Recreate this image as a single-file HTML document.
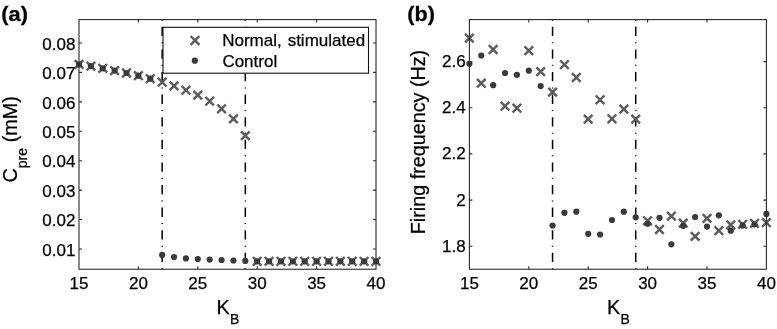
<!DOCTYPE html>
<html><head><meta charset="utf-8"><title>Figure</title>
<style>
html,body{margin:0;padding:0;background:#fff;}
body{width:777px;height:329px;overflow:hidden;}
svg{display:block;}
text{font-family:"Liberation Sans",Arial,Helvetica,sans-serif;fill:#000;stroke:#000;stroke-width:0.25px;}
.tk text{font-size:17px;}
.lb{font-size:19.75px;}
.sb{font-size:14px;}
.pn{font-size:20px;font-weight:bold;}
.lg{font-size:17px;}
</style></head><body>
<svg width="777" height="329" viewBox="0 0 777 329">
<rect width="777" height="329" fill="#fff"/>
<g stroke="#000" stroke-width="1.5" fill="none" stroke-dasharray="9.3 6.15 1 6.15" stroke-dashoffset="15.4">
<path d="M162.16 19.6V269.25"/>
<path d="M245.32 19.6V269.25"/>
</g>
<g stroke="#5c5c5c" stroke-width="2.45" fill="none">
<path d="M74.70 60.10L83.30 68.70M74.70 68.70L83.30 60.10"/>
<path d="M86.58 61.90L95.18 70.50M86.58 70.50L95.18 61.90"/>
<path d="M98.46 64.00L107.06 72.60M98.46 72.60L107.06 64.00"/>
<path d="M110.34 66.30L118.94 74.90M110.34 74.90L118.94 66.30"/>
<path d="M122.22 68.70L130.82 77.30M122.22 77.30L130.82 68.70"/>
<path d="M134.10 71.40L142.70 80.00M134.10 80.00L142.70 71.40"/>
<path d="M145.98 74.40L154.58 83.00M145.98 83.00L154.58 74.40"/>
<path d="M157.86 77.90L166.46 86.50M157.86 86.50L166.46 77.90"/>
<path d="M169.74 81.60L178.34 90.20M169.74 90.20L178.34 81.60"/>
<path d="M181.62 85.90L190.22 94.50M181.62 94.50L190.22 85.90"/>
<path d="M193.50 90.80L202.10 99.40M193.50 99.40L202.10 90.80"/>
<path d="M205.38 96.90L213.98 105.50M205.38 105.50L213.98 96.90"/>
<path d="M217.26 104.50L225.86 113.10M217.26 113.10L225.86 104.50"/>
<path d="M229.14 114.60L237.74 123.20M229.14 123.20L237.74 114.60"/>
<path d="M241.02 131.30L249.62 139.90M241.02 139.90L249.62 131.30"/>
<path d="M252.90 257.00L261.50 265.60M252.90 265.60L261.50 257.00"/>
<path d="M264.78 257.00L273.38 265.60M264.78 265.60L273.38 257.00"/>
<path d="M276.66 257.00L285.26 265.60M276.66 265.60L285.26 257.00"/>
<path d="M288.54 257.00L297.14 265.60M288.54 265.60L297.14 257.00"/>
<path d="M300.42 257.00L309.02 265.60M300.42 265.60L309.02 257.00"/>
<path d="M312.30 257.00L320.90 265.60M312.30 265.60L320.90 257.00"/>
<path d="M324.18 257.00L332.78 265.60M324.18 265.60L332.78 257.00"/>
<path d="M336.06 257.00L344.66 265.60M336.06 265.60L344.66 257.00"/>
<path d="M347.94 257.00L356.54 265.60M347.94 265.60L356.54 257.00"/>
<path d="M359.82 257.00L368.42 265.60M359.82 265.60L368.42 257.00"/>
<path d="M371.70 257.00L380.30 265.60M371.70 265.60L380.30 257.00"/>
</g>
<g fill="#3a3a3a">
<circle cx="79.00" cy="64.40" r="3.1"/>
<circle cx="90.88" cy="66.20" r="3.1"/>
<circle cx="102.76" cy="68.30" r="3.1"/>
<circle cx="114.64" cy="70.60" r="3.1"/>
<circle cx="126.52" cy="73.00" r="3.1"/>
<circle cx="138.40" cy="75.70" r="3.1"/>
<circle cx="150.28" cy="78.70" r="3.1"/>
<circle cx="162.16" cy="254.90" r="3.1"/>
<circle cx="174.04" cy="257.10" r="3.1"/>
<circle cx="185.92" cy="258.40" r="3.1"/>
<circle cx="197.80" cy="259.10" r="3.1"/>
<circle cx="209.68" cy="259.60" r="3.1"/>
<circle cx="221.56" cy="260.00" r="3.1"/>
<circle cx="233.44" cy="260.50" r="3.1"/>
<circle cx="245.32" cy="260.90" r="3.1"/>
<circle cx="257.20" cy="261.30" r="3.1"/>
<circle cx="269.08" cy="261.30" r="3.1"/>
<circle cx="280.96" cy="261.30" r="3.1"/>
<circle cx="292.84" cy="261.30" r="3.1"/>
<circle cx="304.72" cy="261.30" r="3.1"/>
<circle cx="316.60" cy="261.30" r="3.1"/>
<circle cx="328.48" cy="261.30" r="3.1"/>
<circle cx="340.36" cy="261.30" r="3.1"/>
<circle cx="352.24" cy="261.30" r="3.1"/>
<circle cx="364.12" cy="261.30" r="3.1"/>
<circle cx="376.00" cy="261.30" r="3.1"/>
</g>
<g stroke="#2b2b2b" stroke-width="1.1" fill="none">
<rect x="79.00" y="19.6" width="297.0" height="249.65"/>
<path d="M138.40 269.25v-3M138.40 19.6v3M197.80 269.25v-3M197.80 19.6v3M257.20 269.25v-3M257.20 19.6v3M316.60 269.25v-3M316.60 19.6v3M79.00 249.00h3M376.00 249.00h-3M79.00 219.57h3M376.00 219.57h-3M79.00 190.14h3M376.00 190.14h-3M79.00 160.71h3M376.00 160.71h-3M79.00 131.28h3M376.00 131.28h-3M79.00 101.85h3M376.00 101.85h-3M79.00 72.42h3M376.00 72.42h-3M79.00 42.99h3M376.00 42.99h-3"/>
</g>
<g class="tk">
<text x="79.00" y="289.2" text-anchor="middle">15</text>
<text x="138.40" y="289.2" text-anchor="middle">20</text>
<text x="197.80" y="289.2" text-anchor="middle">25</text>
<text x="257.20" y="289.2" text-anchor="middle">30</text>
<text x="316.60" y="289.2" text-anchor="middle">35</text>
<text x="376.00" y="289.2" text-anchor="middle">40</text>
<text x="75.35" y="255.65" text-anchor="end">0.01</text>
<text x="75.35" y="226.22" text-anchor="end">0.02</text>
<text x="75.35" y="196.79" text-anchor="end">0.03</text>
<text x="75.35" y="167.36" text-anchor="end">0.04</text>
<text x="75.35" y="137.93" text-anchor="end">0.05</text>
<text x="75.35" y="108.50" text-anchor="end">0.06</text>
<text x="75.35" y="79.07" text-anchor="end">0.07</text>
<text x="75.35" y="49.64" text-anchor="end">0.08</text>
</g>
<rect x="163" y="27.3" width="205.5" height="45.9" fill="#fff" stroke="#111" stroke-width="1.1"/>
<g stroke="#5c5c5c" stroke-width="2.45" fill="none"><path d="M190.60 36.00L199.40 44.80M190.60 44.80L199.40 36.00"/></g>
<circle cx="194.8" cy="60.7" r="3.1" fill="#3a3a3a"/>
<text class="lg" x="222.2" y="45.7">Normal, <tspan dx="1.2">stimulated</tspan></text>
<text class="lg" x="222.4" y="66.6">Control</text>
<text class="pn" transform="translate(1.3,20.95) scale(1.09,1)">(a)</text>
<text class="lb" x="216.6" y="314">K</text><text class="sb" x="230" y="324">B</text>
<g transform="translate(17,182.5) rotate(-90)"><text class="lb" x="0" y="0">C</text><text class="sb" x="14.3" y="10">pre</text><text class="lb" x="40.2" y="0">(mM)</text></g>
<g stroke="#000" stroke-width="1.5" fill="none" stroke-dasharray="9.3 6.15 1 6.15" stroke-dashoffset="15.4">
<path d="M552.56 19.6V269.25"/>
<path d="M635.72 19.6V269.25"/>
</g>
<g stroke="#5c5c5c" stroke-width="2.45" fill="none">
<path d="M465.10 33.80L473.70 42.40M465.10 42.40L473.70 33.80"/>
<path d="M476.98 78.90L485.58 87.50M476.98 87.50L485.58 78.90"/>
<path d="M488.86 45.20L497.46 53.80M488.86 53.80L497.46 45.20"/>
<path d="M500.74 101.90L509.34 110.50M500.74 110.50L509.34 101.90"/>
<path d="M512.62 103.90L521.22 112.50M512.62 112.50L521.22 103.90"/>
<path d="M524.50 46.40L533.10 55.00M524.50 55.00L533.10 46.40"/>
<path d="M536.38 67.30L544.98 75.90M536.38 75.90L544.98 67.30"/>
<path d="M548.26 87.80L556.86 96.40M548.26 96.40L556.86 87.80"/>
<path d="M560.14 60.40L568.74 69.00M560.14 69.00L568.74 60.40"/>
<path d="M572.02 73.20L580.62 81.80M572.02 81.80L580.62 73.20"/>
<path d="M583.90 114.80L592.50 123.40M583.90 123.40L592.50 114.80"/>
<path d="M595.78 95.50L604.38 104.10M595.78 104.10L604.38 95.50"/>
<path d="M607.66 114.50L616.26 123.10M607.66 123.10L616.26 114.50"/>
<path d="M619.54 104.80L628.14 113.40M619.54 113.40L628.14 104.80"/>
<path d="M631.42 114.80L640.02 123.40M631.42 123.40L640.02 114.80"/>
<path d="M643.30 216.50L651.90 225.10M643.30 225.10L651.90 216.50"/>
<path d="M655.18 225.20L663.78 233.80M655.18 233.80L663.78 225.20"/>
<path d="M667.06 211.80L675.66 220.40M667.06 220.40L675.66 211.80"/>
<path d="M678.94 218.80L687.54 227.40M678.94 227.40L687.54 218.80"/>
<path d="M690.82 232.10L699.42 240.70M690.82 240.70L699.42 232.10"/>
<path d="M702.70 214.10L711.30 222.70M702.70 222.70L711.30 214.10"/>
<path d="M714.58 226.40L723.18 235.00M714.58 235.00L723.18 226.40"/>
<path d="M726.46 220.60L735.06 229.20M726.46 229.20L735.06 220.60"/>
<path d="M738.34 220.00L746.94 228.60M738.34 228.60L746.94 220.00"/>
<path d="M750.22 219.00L758.82 227.60M750.22 227.60L758.82 219.00"/>
<path d="M762.10 218.40L770.70 227.00M762.10 227.00L770.70 218.40"/>
</g>
<g fill="#3a3a3a">
<circle cx="469.40" cy="63.80" r="3.1"/>
<circle cx="481.28" cy="55.50" r="3.1"/>
<circle cx="493.16" cy="85.20" r="3.1"/>
<circle cx="505.04" cy="73.00" r="3.1"/>
<circle cx="516.92" cy="74.80" r="3.1"/>
<circle cx="528.80" cy="70.70" r="3.1"/>
<circle cx="540.68" cy="86.10" r="3.1"/>
<circle cx="552.56" cy="225.50" r="3.1"/>
<circle cx="564.44" cy="212.80" r="3.1"/>
<circle cx="576.32" cy="211.70" r="3.1"/>
<circle cx="588.20" cy="233.80" r="3.1"/>
<circle cx="600.08" cy="234.50" r="3.1"/>
<circle cx="611.96" cy="220.00" r="3.1"/>
<circle cx="623.84" cy="211.70" r="3.1"/>
<circle cx="635.72" cy="217.30" r="3.1"/>
<circle cx="647.60" cy="223.70" r="3.1"/>
<circle cx="659.48" cy="217.80" r="3.1"/>
<circle cx="671.36" cy="244.30" r="3.1"/>
<circle cx="683.24" cy="225.80" r="3.1"/>
<circle cx="695.12" cy="217.00" r="3.1"/>
<circle cx="707.00" cy="226.60" r="3.1"/>
<circle cx="718.88" cy="215.30" r="3.1"/>
<circle cx="730.76" cy="230.70" r="3.1"/>
<circle cx="742.64" cy="225.60" r="3.1"/>
<circle cx="754.52" cy="224.30" r="3.1"/>
<circle cx="766.40" cy="213.90" r="3.1"/>
</g>
<g stroke="#2b2b2b" stroke-width="1.1" fill="none">
<rect x="469.40" y="19.6" width="297.0" height="249.65"/>
<path d="M528.80 269.25v-3M528.80 19.6v3M588.20 269.25v-3M588.20 19.6v3M647.60 269.25v-3M647.60 19.6v3M707.00 269.25v-3M707.00 19.6v3M469.40 246.30h3M766.40 246.30h-3M469.40 200.10h3M766.40 200.10h-3M469.40 153.90h3M766.40 153.90h-3M469.40 107.70h3M766.40 107.70h-3M469.40 61.60h3M766.40 61.60h-3"/>
</g>
<g class="tk">
<text x="469.40" y="289.2" text-anchor="middle">15</text>
<text x="528.80" y="289.2" text-anchor="middle">20</text>
<text x="588.20" y="289.2" text-anchor="middle">25</text>
<text x="647.60" y="289.2" text-anchor="middle">30</text>
<text x="707.00" y="289.2" text-anchor="middle">35</text>
<text x="766.40" y="289.2" text-anchor="middle">40</text>
<text x="465.75" y="251.80" text-anchor="end">1.8</text>
<text x="465.75" y="205.60" text-anchor="end">2</text>
<text x="465.75" y="159.40" text-anchor="end">2.2</text>
<text x="465.75" y="113.20" text-anchor="end">2.4</text>
<text x="465.75" y="67.10" text-anchor="end">2.6</text>
</g>
<text class="pn" transform="translate(407.3,21.1) scale(1.08,1)">(b)</text>
<text class="lb" x="607" y="314">K</text><text class="sb" x="620.4" y="324">B</text>
<g transform="translate(425,234.2) rotate(-90)"><text class="lb" x="0" y="0">Firing frequency (Hz)</text></g>
</svg></body></html>
